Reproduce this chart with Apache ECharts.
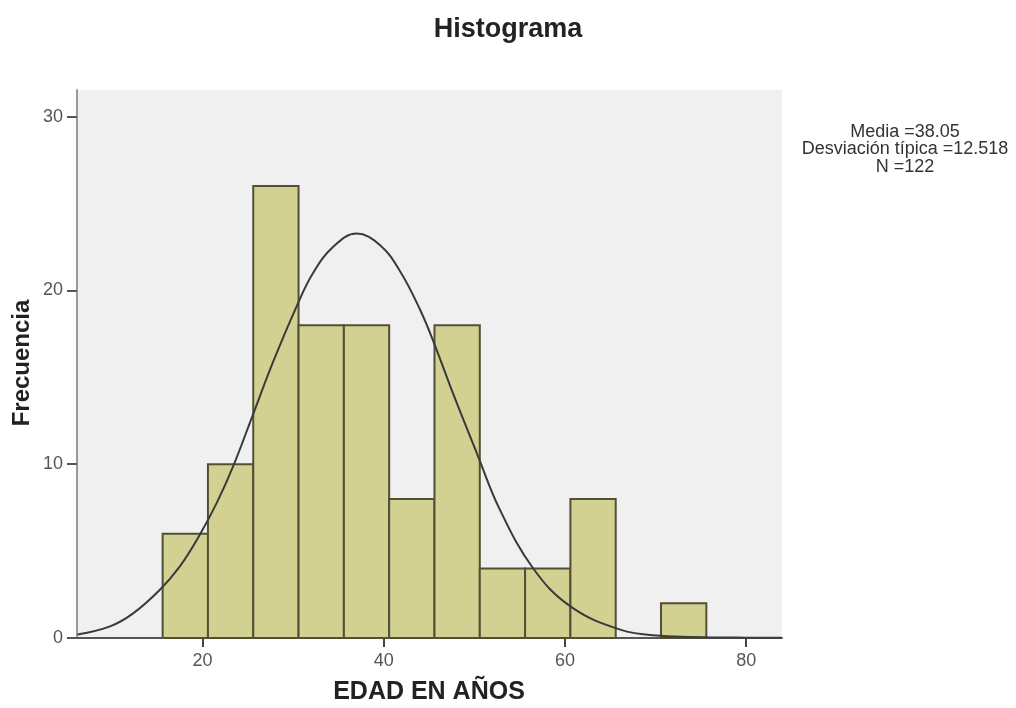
<!DOCTYPE html>
<html>
<head>
<meta charset="utf-8">
<script src="https://cdn.jsdelivr.net/npm/echarts@6/dist/echarts.min.js"></script>
<style>html,body{margin:0;padding:0;background:#fff}#c{width:1016px;height:708px}</style>
</head>
<body>
<div id="c"></div>
<script>
// ---- data ----
const binStarts = [15.6, 20.6, 25.6, 30.6, 35.6, 40.6, 45.6, 50.6, 55.6, 60.6, 65.6, 70.6];
const binWidth = 5;
const counts = [6, 10, 26, 18, 18, 8, 18, 4, 4, 8, 0, 2];
const curveX = [6.2, 9.8, 12.3, 15.3, 17.5, 19.7, 21.6, 23.4, 25.6, 27.8, 30.4, 32.2, 34.4, 37.0, 39.6, 41.8, 44.0, 45.6, 47.7, 50.3, 52.8, 56.5, 60.6, 66.1, 70.5, 75.3, 80.0, 83.9];
const curveY = [0.2, 0.67, 1.4, 2.78, 4.12, 5.94, 7.8, 9.9, 12.9, 15.9, 19.1, 21.0, 22.5, 23.27, 22.6, 21.1, 18.9, 16.9, 14.0, 10.6, 7.4, 4.0, 1.82, 0.48, 0.13, 0.05, 0.02, 0.01];
const xTicks = [20, 40, 60, 80];
const yTicks = [0, 10, 20, 30];
const titleText = 'Histograma';
const xName = 'EDAD EN AÑOS';
const yName = 'Frecuencia';
const statsLines = ['Media =38.05', 'Desviación típica =12.518', 'N =122'];

const FONT = '"Liberation Sans", Arial, sans-serif';
const barData = binStarts.map((s, i) => [s, s + binWidth, counts[i]]);
const lineData = curveX.map((x, i) => [x, curveY[i]]);

const chart = echarts.init(document.getElementById('c'));
chart.setOption({
  animation: false,
  backgroundColor: '#ffffff',
  grid: { left: 77, right: 234, top: 90, bottom: 70, show: true, backgroundColor: '#f0f0f0', borderWidth: 0 },
  xAxis: {
    type: 'value', min: 6.15, max: 83.95,
    splitLine: { show: false },
    axisLine: { show: true, onZero: false, lineStyle: { color: '#555', width: 2 } },
    axisTick: { show: true, customValues: xTicks, length: 9, lineStyle: { color: '#444', width: 2 } },
    axisLabel: { customValues: xTicks, margin: 14, color: '#555', fontSize: 18, fontFamily: FONT }
  },
  yAxis: {
    type: 'value', min: 0, max: 31.53,
    splitLine: { show: false },
    axisLine: { show: true, lineStyle: { color: '#999', width: 2 } },
    axisTick: { show: true, customValues: yTicks, length: 10, lineStyle: { color: '#555', width: 2 } },
    axisLabel: { customValues: yTicks, margin: 14, color: '#555', fontSize: 18, fontFamily: FONT }
  },
  series: [
    {
      type: 'custom',
      data: barData,
      z: 2,
      renderItem: function (params, api) {
        const s = api.value(0), e = api.value(1), c = api.value(2);
        if (!c) return null;
        const p0 = api.coord([s, 0]);
        const p1 = api.coord([e, c]);
        return {
          type: 'rect',
          shape: { x: p0[0], y: p1[1], width: p1[0] - p0[0], height: p0[1] - p1[1] },
          style: { fill: '#d3d192', stroke: '#505036', lineWidth: 2 }
        };
      }
    },
    {
      type: 'line',
      data: lineData,
      smooth: 0.4,
      showSymbol: false,
      z: 5,
      lineStyle: { color: '#3a3a3a', width: 2 }
    }
  ],
  graphic: [
    { type: 'text', left: 'center', top: 16, style: { text: titleText, font: 'bold 27px ' + FONT, fill: '#222' } },
    { type: 'text', x: 429, y: 692, style: { text: xName, font: 'bold 25px ' + FONT, fill: '#222', align: 'center', verticalAlign: 'middle' } },
    { type: 'text', x: 22, y: 363, rotation: Math.PI / 2, style: { text: yName, font: 'bold 24px ' + FONT, fill: '#222', align: 'center', verticalAlign: 'middle' } },
    { type: 'text', x: 905, y: 123, style: { text: statsLines.join('\n'), font: '18px ' + FONT, lineHeight: 17.5, fill: '#333', align: 'center', verticalAlign: 'top' } }
  ]
});
</script>
</body>
</html>
